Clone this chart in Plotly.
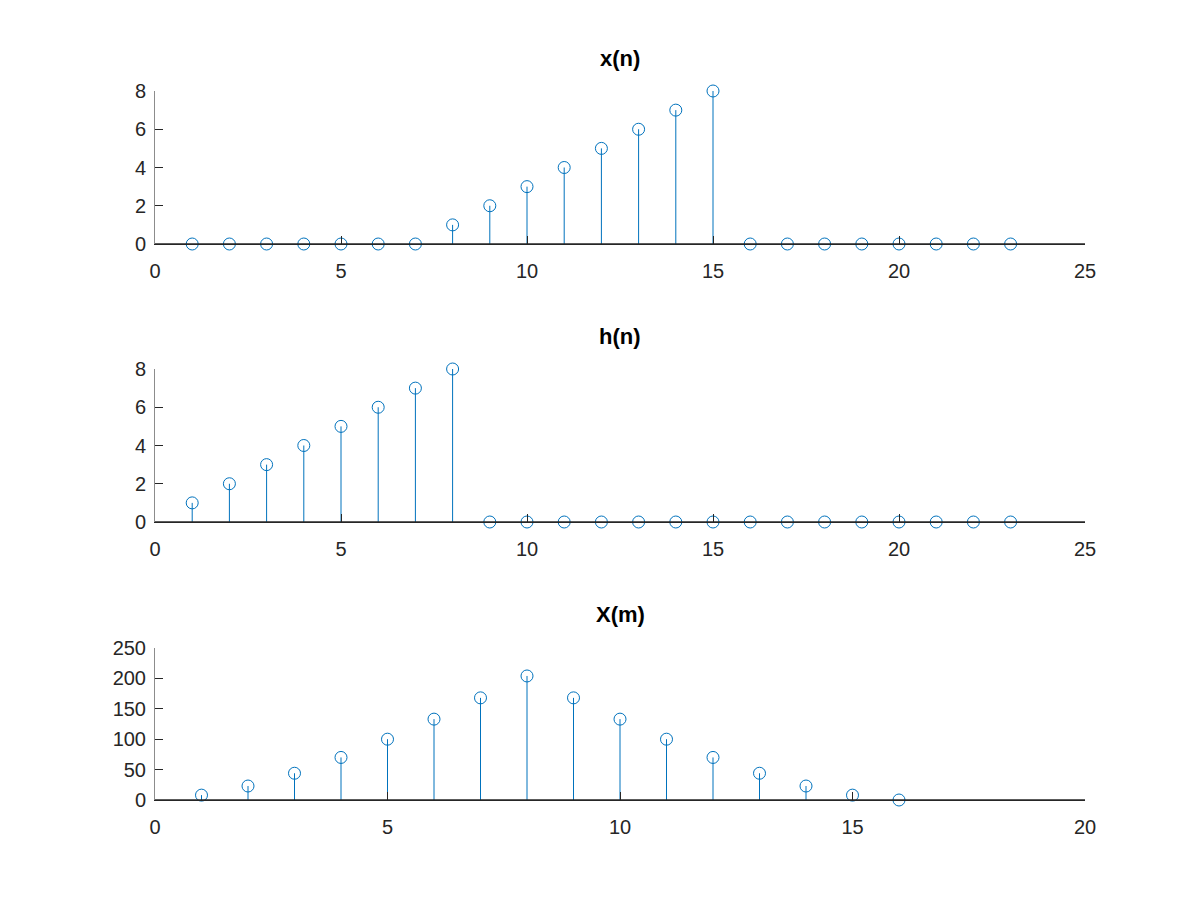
import plotly.graph_objects as go

# signals
n = list(range(1, 24))
x_n = [0, 0, 0, 0, 0, 0, 0, 1, 2, 3, 4, 5, 6, 7, 8, 0, 0, 0, 0, 0, 0, 0, 0]
h_n = [1, 2, 3, 4, 5, 6, 7, 8, 0, 0, 0, 0, 0, 0, 0, 0, 0, 0, 0, 0, 0, 0, 0]
m = list(range(1, 17))
X_m = [8, 23, 44, 70, 100, 133, 168, 204, 168, 133, 100, 70, 44, 23, 8, 0]

titles = ['x(n)', 'h(n)', 'X(m)']
xranges = [[0, 25], [0, 25], [0, 20]]
yranges = [[0, 8], [0, 8], [0, 250]]
xticks = [[0, 5, 10, 15, 20, 25], [0, 5, 10, 15, 20, 25], [0, 5, 10, 15, 20]]
yticks = [[0, 2, 4, 6, 8], [0, 2, 4, 6, 8], [0, 50, 100, 150, 200, 250]]

blue = '#0072BD'
dark = '#262626'
W, H = 1200, 900
off = 8  # page body margin
xdom = [(155 - off) / W, (1085 - off) / W]
ydoms = [[(656 + off) / H, (809 + off) / H],
         [(378 + off) / H, (531 + off) / H],
         [(100 + off) / H, (252 + off) / H]]
title_y = [58, 336, 614]

fig = go.Figure()

for i, (xs, ys) in enumerate([(n, x_n), (n, h_n), (m, X_m)]):
    k = '' if i == 0 else str(i + 1)
    # stems
    sx, sy = [], []
    for a, b in zip(xs, ys):
        sx += [a, a, None]
        sy += [0, b, None]
    fig.add_trace(go.Scatter(x=sx, y=sy, mode='lines', line=dict(color=blue, width=1),
                             xaxis='x' + k, yaxis='y' + k, showlegend=False, hoverinfo='skip'))
    fig.add_trace(go.Scatter(x=xs, y=ys, mode='markers', cliponaxis=False,
                             marker=dict(symbol='circle-open', size=12, color=blue,
                                         line=dict(width=1, color=blue)),
                             xaxis='x' + k, yaxis='y' + k, showlegend=False))
    # baseline
    fig.add_shape(type='line', xref='x' + k, yref='y' + k,
                  x0=xranges[i][0], x1=xranges[i][1], y0=0, y1=0,
                  line=dict(color=dark, width=1.5))

    fig.layout['xaxis' + k] = dict(
        domain=xdom, range=xranges[i], tickvals=xticks[i], anchor='y' + k,
        ticks='inside', ticklen=8, tickwidth=1, tickcolor=dark, automargin=False,
        showline=True, linecolor=dark, linewidth=1, showgrid=False, zeroline=False,
        ticklabelstandoff=9, tickfont=dict(size=20, color=dark, family='Liberation Sans'))
    fig.layout['yaxis' + k] = dict(
        domain=ydoms[i], range=yranges[i], tickvals=yticks[i], anchor='x' + k,
        ticks='inside', ticklen=8, tickwidth=1, tickcolor=dark, automargin=False,
        showline=True, linecolor='#8c8c8c', linewidth=1, showgrid=False, zeroline=False,
        ticklabelstandoff=4, tickfont=dict(size=20, color=dark, family='Liberation Sans'))

    fig.add_annotation(text='<b>' + titles[i] + '</b>', xref='paper', yref='paper',
                       x=(xdom[0] + xdom[1]) / 2, y=1 - (title_y[i] - off) / H,
                       xanchor='center', yanchor='middle', showarrow=False,
                       font=dict(size=22, color='black', family='Liberation Sans'))

fig.update_layout(width=W, height=H, margin=dict(l=0, r=0, t=0, b=0),
                  paper_bgcolor='white', plot_bgcolor='white')

fig.write_html('out.html')
